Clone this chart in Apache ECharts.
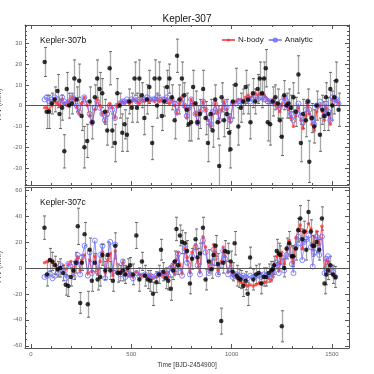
<!DOCTYPE html>
<html>
<head>
<meta charset="utf-8">
<script src="https://cdn.jsdelivr.net/npm/echarts@6/dist/echarts.min.js"></script>
<style>html,body{margin:0;padding:0;background:#fff}#main{width:374px;height:374px}</style>
</head>
<body>
<div id="main"></div>
<script>
// Kepler-307b
var bTime = [68,78,90,104,118,132,142,155,166,178,190,204,216,228,240,252,266,280,292,305,318,330,342,355,368,380,392,405,418,430,442,455,466,478,490,502,516,528,540,552,565,578,590,604,616,628,640,652,665,678,690,702,716,728,740,752,764,776,786,798,808,820,830,842,858,870,882,895,905,918,930,938,950,962,975,988,994,1006,1020,1033,1046,1058,1070,1082,1094,1106,1118,1130,1140,1152,1162,1170,1180,1192,1205,1218,1230,1240,1250,1262,1274,1284,1296,1308,1320,1333,1345,1356,1370,1380,1387,1400,1412,1424,1440,1452,1462,1470,1482,1492,1502,1512,1522,1533];
var bObs = [21,-3,-3,1,3,7,-4,-1,-22,8,0,1,13,3,12,-5,-20,-17,2,-8,4,13,8,6,-3,-12,18,-12,-18,6,0,-13,-9,-14,2,-1,13,-1,13,5,-6,3,9,-18,13,0,13,-5,2,9,13,4,-7,24,3,13,5,-2,-9,-8,9,1,-8,-4,8,-6,-18,-4,-12,3,-8,-29,4,-7,-4,-13,-21,2,10,-10,-1,2,9,3,-8,6,2,8,13,6,13,18,-8,-9,2,4,1,-7,-15,5,0,1,-1,4,-3,15,-18,-4,-7,2,-27,-6,-10,0,-14,-2,-5,4,-4,8,0,4,12,-2];
var bErr = [7,8,8,5,6,8,7,6,8,8,6,5,9,6,8,7,10,8,7,8,6,9,8,7,6,7,8,8,9,7,6,9,7,8,6,7,8,7,9,6,8,7,8,8,9,6,8,7,7,8,7,6,9,8,7,8,6,8,8,9,8,6,8,7,9,8,9,7,8,7,8,10,7,8,7,9,9,8,8,9,7,6,8,7,8,7,6,7,8,7,8,9,9,10,7,6,7,8,9,7,6,7,6,7,7,9,9,7,8,6,10,7,8,7,8,7,7,7,8,8,7,8,9,8];
var bNbody = [-1,-1,-2,0,2,1,0,3,1,0,2,4,3,-1,-4,1,4,0,-5,-9,-2,3,0,-4,-8,-3,1,-1,-6,0,1,2,1,2,1,2,3,2,1,3,2,3,2,3,2,3,2,3,2,3,1,3,0,-4,1,4,0,-6,-2,3,1,-4,-9,-3,2,-2,-7,-10,-4,1,-3,-8,-2,2,-2,-6,-8,1,2,3,3,2,4,5,4,5,6,5,6,6,5,4,3,2,3,1,-1,-3,0,4,1,-2,-6,-10,-5,-1,-7,-11,-5,0,-4,-9,-12,-3,0,-3,-7,-1,-4,-9,3,4,2,1];
var bAnalytic = [3,4,2,3,4,3,1,4,2,1,2,4,3,0,-3,2,4,1,-4,-8,-1,2,-1,-4,-7,-4,0,-2,-6,0,1,2,2,3,2,3,3,2,2,3,3,4,3,3,3,4,3,3,3,4,2,3,1,-3,2,3,0,-5,-1,3,1,-4,-8,-3,2,-2,-6,-9,-3,1,-3,-7,-1,2,-1,-5,-7,1,1,2,2,1,2,3,2,3,4,3,4,4,3,3,2,2,2,1,0,-1,2,4,2,-1,-4,-7,-3,1,-5,-8,-2,2,-2,-6,-9,0,2,-1,-5,1,-3,-7,4,3,3,1];

// Kepler-307c
var cTime = [67,80,94,107,120,133,146,160,173,186,199,212,225,233,245,253,267,283,292,303,318,332,345,356,370,382,395,408,420,432,445,458,470,482,494,508,525,540,553,568,582,595,608,625,638,648,660,672,684,697,708,717,725,733,742,753,767,778,792,803,820,830,842,857,870,887,900,910,920,932,948,958,967,982,995,1005,1015,1025,1035,1045,1058,1070,1080,1092,1108,1122,1135,1148,1160,1172,1185,1198,1205,1212,1225,1235,1242,1250,1262,1274,1287,1300,1308,1320,1332,1342,1352,1362,1372,1383,1395,1404,1412,1424,1437,1450,1463,1472,1480,1492,1505,1517];
var cObs = [31,-5,6,5,2,-1,0,-4,-13,-14,-7,-2,4,32,-27,4,26,-28,14,-10,4,-9,-7,10,-2,10,-2,-10,17,-4,-4,-2,-5,0,2,-5,25,-9,5,-6,-9,-10,-20,-11,-5,14,-3,-8,-10,-16,-2,5,30,2,25,20,19,13,-12,7,22,8,11,31,-9,5,-1,10,17,3,-41,4,13,12,5,-3,19,-6,-8,-9,-14,-10,-20,8,-9,-5,-4,-12,-7,-7,-4,-2,-1,2,13,11,10,-45,0,15,19,9,9,15,29,38,22,28,14,43,28,17,17,20,14,38,-12,-5,-2,2,-5,-7];
var cErr = [9,9,9,7,7,6,7,6,8,8,7,7,8,14,8,6,9,10,9,8,7,8,7,8,7,10,7,8,10,7,6,8,7,7,6,8,10,9,7,8,7,8,9,8,7,8,7,8,7,9,7,8,9,7,8,9,8,8,8,8,8,7,8,8,8,9,7,8,8,8,10,8,8,7,8,7,9,8,7,7,8,7,9,8,8,7,7,8,7,7,7,7,6,7,9,8,7,12,7,8,9,8,8,9,9,10,8,8,8,9,9,8,7,8,8,9,8,8,7,7,7,8];
var cNbody = [4,5,6,4,3,-2,0,2,-1,3,5,-3,6,8,-2,5,10,-4,6,-3,9,-5,5,12,-4,6,11,-6,13,-3,-4,4,-5,-2,-6,-7,-3,-5,-6,-5,-7,-6,-8,-7,-5,-4,-6,-4,-7,1,3,-5,6,12,3,-4,15,8,-3,12,18,5,-3,24,16,-1,3,18,12,-2,5,16,9,-3,2,-6,-4,-8,-10,-11,-12,-13,-14,-13,-14,-13,-12,-12,-11,-11,-8,-10,-5,2,9,-2,4,12,3,14,21,8,4,23,30,33,15,27,28,34,30,14,24,28,18,32,0,6,5,-3,-5,-8];
var cAnalytic = [-7,-6,-4,-8,-6,-4,2,-3,-8,3,1,-7,4,10,-5,8,17,-6,12,-4,21,-3,10,17,-8,8,20,-3,18,-3,-5,5,-7,-4,-5,-8,-4,-6,-6,-5,-7,-6,-7,-6,-5,-4,-6,-3,-6,0,2,-3,5,11,0,-6,15,4,-5,9,16,2,-5,21,12,-4,1,14,8,-5,2,13,7,-5,-1,-7,-6,-5,-6,-7,-6,-7,-8,-6,-7,-6,-6,-7,-5,-6,-5,-7,-3,0,4,-4,1,8,-2,10,17,3,-4,16,24,19,6,20,22,25,16,1,12,24,10,24,-4,7,9,1,-3,-7];

var xMajor = [0, 500, 1000, 1500];
var bYMajor = [-30, -20, -10, 0, 10, 20, 30];
var cYMajor = [-60, -40, -20, 0, 20, 40, 60];

var FONT = 'Liberation Sans';
var xMin = -30, xMax = 1585;

function minorTicks(lo, hi, step, major) {
  var out = [];
  for (var v = lo; v <= hi; v += step) {
    if (major.indexOf(v) < 0) out.push(v);
  }
  return out;
}
var xMinor = minorTicks(0, 1500, 100, xMajor);
var bYMinor = minorTicks(-38, 38, 2, bYMajor);
var cYMinor = minorTicks(-60, 60, 5, cYMajor);

function axis(gi, pos, min, max, vals, len, showLabel, lineShow) {
  return {
    type: 'value', gridIndex: gi, position: pos, min: min, max: max,
    axisLine: {show: lineShow, onZero: false, lineStyle: {color: '#555', width: 1}},
    axisTick: {show: true, inside: true, length: len, customValues: vals, lineStyle: {color: '#555', width: 1}},
    axisLabel: {
      show: showLabel, customValues: vals, fontSize: 6, color: '#666', margin: 3, fontFamily: FONT,
      formatter: function (v) { return String(v); }
    },
    splitLine: {show: false}
  };
}

var grids = [
  {left: 25, right: 25, top: 25, height: 160, outerBoundsMode: 'none', containLabel: false},
  {left: 25, right: 25, top: 187, height: 161, outerBoundsMode: 'none', containLabel: false}
];
var yRanges = [[-38.2, 38.8], [-61.7, 62.3]];
var yMajors = [bYMajor, cYMajor];
var yMinors = [bYMinor, cYMinor];

var xAxes = [], yAxes = [];
for (var g = 0; g < 2; g++) {
  var xa = axis(g, 'bottom', xMin, xMax, xMajor, 4, g === 1, true);
  if (g === 1) {
    xa.name = 'Time [BJD-2454900]';
    xa.nameLocation = 'middle';
    xa.nameGap = 14;
    xa.nameTextStyle = {fontSize: 6.5, color: '#333', fontFamily: FONT};
  }
  xAxes.push(xa);
  xAxes.push(axis(g, 'bottom', xMin, xMax, xMinor, 2, false, false));
  xAxes.push(axis(g, 'top', xMin, xMax, xMajor, 4, false, true));
  xAxes.push(axis(g, 'top', xMin, xMax, xMinor, 2, false, false));

  var r = yRanges[g];
  var ya = axis(g, 'left', r[0], r[1], yMajors[g], 4, true, true);
  ya.name = 'TTV (min.)';
  ya.nameLocation = 'middle';
  ya.nameGap = 16;
  ya.nameRotate = 90;
  ya.nameTextStyle = {fontSize: 7, color: '#333', fontFamily: FONT};
  yAxes.push(ya);
  yAxes.push(axis(g, 'left', r[0], r[1], yMinors[g], 2, false, false));
  yAxes.push(axis(g, 'right', r[0], r[1], yMajors[g], 4, false, true));
  yAxes.push(axis(g, 'right', r[0], r[1], yMinors[g], 2, false, false));
}

function errRender(params, api) {
  var lo = api.coord([api.value(0), api.value(1)]);
  var hi = api.coord([api.value(0), api.value(2)]);
  var cx = Math.round(lo[0]) + 0.5;
  return {
    type: 'group',
    children: [
      {type: 'line', shape: {x1: cx, y1: lo[1], x2: cx, y2: hi[1]}, style: {stroke: '#a8a8a8', lineWidth: 1.3}},
      {type: 'line', shape: {x1: cx - 1.5, y1: lo[1], x2: cx + 1.5, y2: lo[1]}, style: {stroke: '#666', lineWidth: 1}},
      {type: 'line', shape: {x1: cx - 1.5, y1: hi[1], x2: cx + 1.5, y2: hi[1]}, style: {stroke: '#666', lineWidth: 1}}
    ]
  };
}

var panels = [
  {t: bTime, obs: bObs, err: bErr, nb: bNbody, an: bAnalytic},
  {t: cTime, obs: cObs, err: cErr, nb: cNbody, an: cAnalytic}
];

var series = [];
panels.forEach(function (p, g) {
  var errData = [], obsData = [], nbData = [], anData = [];
  for (var i = 0; i < p.t.length; i++) {
    errData.push([p.t[i], p.obs[i] - p.err[i], p.obs[i] + p.err[i]]);
    obsData.push([p.t[i], p.obs[i]]);
    nbData.push([p.t[i], p.nb[i]]);
    anData.push([p.t[i], p.an[i]]);
  }
  var xi = g * 4, yi = g * 4;
  series.push({
    type: 'custom', xAxisIndex: xi, yAxisIndex: yi, renderItem: errRender,
    data: errData, clip: true, z: 2, silent: true,
    markLine: {
      silent: true, symbol: 'none', label: {show: false},
      lineStyle: {color: '#555', width: 1, type: 'solid'},
      data: [{yAxis: 0}]
    }
  });
  series.push({
    name: 'N-body', type: 'line', xAxisIndex: xi, yAxisIndex: yi, data: nbData, z: 4,
    symbol: 'circle', symbolSize: 3.5,
    lineStyle: {color: 'rgba(255,40,40,0.75)', width: 1},
    itemStyle: {color: 'rgba(255,50,50,0.75)'}
  });
  series.push({
    name: 'Analytic', type: 'line', xAxisIndex: xi, yAxisIndex: yi, data: anData, z: 4,
    symbol: 'circle', symbolSize: 5,
    lineStyle: {color: 'rgba(110,110,255,0.75)', width: 1},
    itemStyle: {color: 'rgba(255,255,255,0)', borderColor: 'rgba(110,110,255,0.85)', borderWidth: 1}
  });
  series.push({
    type: 'scatter', xAxisIndex: xi, yAxisIndex: yi, data: obsData, z: 5,
    symbolSize: 4.5, itemStyle: {color: '#000'}
  });
});

var chart = echarts.init(document.getElementById('main'));
chart.setOption({
  animation: false,
  title: {
    text: 'Kepler-307', left: 'center', top: 9,
    textStyle: {fontSize: 10, fontWeight: 'normal', color: '#111', fontFamily: FONT}
  },
  legend: {
    data: ['N-body', 'Analytic'], left: 221, top: 36, padding: 0, itemWidth: 13, itemHeight: 4, itemGap: 4,
    textStyle: {fontSize: 8, color: '#222', fontFamily: FONT, padding: [0, 0, 0, -2]}
  },
  graphic: [
    {type: 'text', left: 40, top: 36, style: {text: 'Kepler-307b', fontSize: 8.5, fill: '#111', fontFamily: FONT}},
    {type: 'text', left: 40, top: 198, style: {text: 'Kepler-307c', fontSize: 8.5, fill: '#111', fontFamily: FONT}}
  ],
  grid: grids,
  xAxis: xAxes,
  yAxis: yAxes,
  series: series
});
</script>
</body>
</html>
